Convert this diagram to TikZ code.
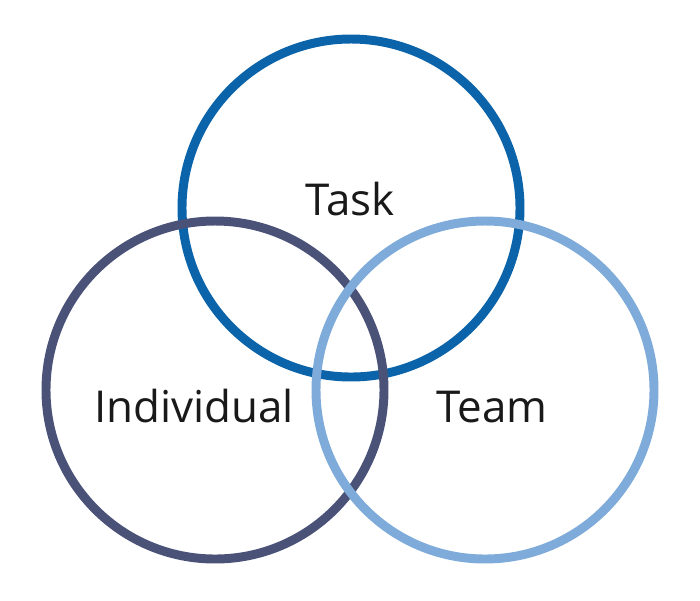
\documentclass[tikz,border=0pt]{standalone}
\usepackage{fontspec}
\setmainfont{Open Sans}
\definecolor{taskblue}{RGB}{11,99,169}
\definecolor{indivslate}{RGB}{75,82,120}
\definecolor{teamblue}{RGB}{126,171,217}

\tikzset{
  ring/.style={line width=5.1pt},     % circle outline
  lbl/.style={anchor=base, inner sep=0pt, font=\fontsize{25}{30}\selectfont, text=black!90}
}

\begin{document}
\begin{tikzpicture}[x=0.02cm, y=-0.02cm]
	\useasboundingbox (0,0) rectangle (700,600);

	% circles
	\draw[ring, taskblue] (351,208) circle (169);
	\draw[ring, indivslate] (215,390) circle (169);
	\draw[ring, teamblue] (485,390) circle (169);

	% labels
	\node[lbl] (task) at (350,215) {Task};
	\node[lbl] (individual) at (194,422) {Individual};
	\node[lbl] (team) at (492,422) {Team};

\end{tikzpicture}
\end{document}
